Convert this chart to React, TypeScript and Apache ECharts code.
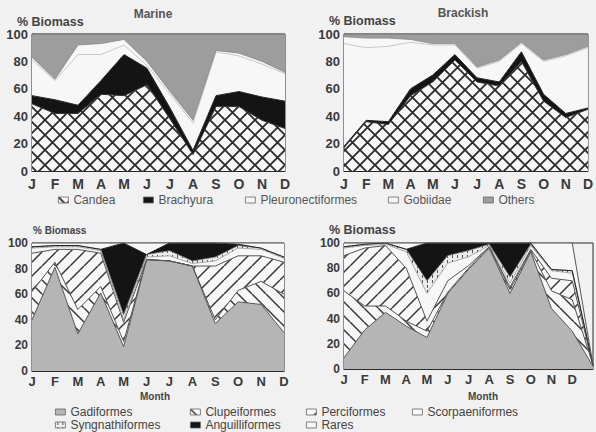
import React, { useEffect, useRef } from 'react';
import * as echarts from 'echarts';

const months = ['J', 'F', 'M', 'A', 'M', 'J', 'J', 'A', 'S', 'O', 'N', 'D'];
const monthsBR = ['J', 'F', 'M', 'A', 'M', 'J', 'J', 'A', 'S', 'O', 'N', 'D', ''];

// Marine (% biomass per group)
const marineCandea = [49, 42, 42, 56, 55, 63, 38, 12, 47, 47, 37, 31];
const marineBrachyura = [6, 10, 6, 10, 30, 12, 8, 3, 8, 11, 17, 20];
const marinePleuro = [26, 14, 37, 19, 7, 2, 10, 20, 32, 26, 24, 20];
const marineGobiidae = [2, 1, 7, 8, 4, 3, 2, 2, 1, 2, 2, 1];
const marineOthers = [17, 33, 8, 7, 4, 20, 42, 63, 12, 14, 20, 28];

// Brackish
const brackCandea = [17, 36, 34, 55, 65, 81, 65, 62, 80, 51, 39, 45];
const brackBrachyura = [1, 1, 2, 5, 5, 4, 3, 3, 7, 5, 3, 1];
const brackPleuro = [75, 53, 55, 34, 22, 7, 7, 15, 6, 24, 42, 44];
const brackGobiidae = [5, 7, 6, 2, 1, 1, 1, 1, 1, 1, 1, 1];
const brackOthers = [2, 3, 3, 4, 7, 7, 24, 19, 6, 19, 15, 9];

// Bottom-left fish groups
const blGadi = [40, 81, 29, 61, 19, 87, 86, 82, 37, 54, 52, 30];
const blClupe = [22, 4, 19, 5, 4, 0, 0, 0, 3, 9, 18, 30];
const blPerci = [30, 10, 47, 26, 15, 0, 0, 0, 42, 27, 20, 25];
const blScorp = [4, 2, 2, 2, 2, 2, 4, 2, 4, 6, 5, 3];
const blSyng = [1, 1, 1, 1, 4, 2, 4, 2, 3, 2, 1, 1];
const blAngu = [0, 0, 0, 0, 56, 0, 6, 14, 11, 1, 0, 0];
const blRares = [3, 2, 2, 5, 0, 9, 0, 0, 0, 1, 4, 11];

// Bottom-right fish groups
const brGadi = [9, 31, 45, 34, 25, 60, 79, 96, 60, 93, 48, 30, 2];
const brClupe = [53, 19, 5, 4, 5, 1, 1, 1, 3, 1, 14, 25, 1];
const brPerci = [28, 46, 48, 42, 8, 9, 2, 0, 2, 1, 10, 15, 0];
const brScorp = [6, 2, 1, 13, 22, 14, 7, 1, 3, 3, 6, 6, 0];
const brSyng = [1, 1, 1, 2, 10, 6, 5, 1, 5, 1, 1, 2, 0];
const brAngu = [0, 0, 0, 0, 30, 10, 6, 1, 27, 1, 0, 0, 0];
const brRares = [3, 1, 0, 5, 0, 0, 0, 0, 0, 0, 21, 22, 0];

const FONT = 'Liberation Sans, Arial, sans-serif';

function hatch(kind: string, size: number, lw: number, stroke: string, bg: string) {
  const c = document.createElement('canvas');
  c.width = size;
  c.height = size;
  const g = c.getContext('2d') as CanvasRenderingContext2D;
  g.fillStyle = bg;
  g.fillRect(0, 0, size, size);
  g.strokeStyle = stroke;
  g.lineWidth = lw;
  g.beginPath();
  if (kind === 'fwd' || kind === 'cross') {
    for (let k = 0; k <= 2; k++) {
      g.moveTo(k * size - size, size);
      g.lineTo(k * size, 0);
    }
  }
  if (kind === 'back' || kind === 'cross') {
    for (let k = 0; k <= 2; k++) {
      g.moveTo(k * size - size, 0);
      g.lineTo(k * size, size);
    }
  }
  if (kind === 'vdash') {
    g.moveTo(size / 2, 0);
    g.lineTo(size / 2, size * 0.6);
  }
  g.stroke();
  return { image: c.toDataURL(), repeat: 'repeat', imageWidth: size, imageHeight: size } as any;
}

export default function App() {
  const ref = useRef<HTMLDivElement>(null);
  useEffect(() => {
    if (!ref.current) return;
    const chart = echarts.init(ref.current, undefined, { renderer: 'svg' });

    const WHITE = '#f7f7f7';
    const cross = hatch('cross', 15, 1.8, '#2b2b2b', WHITE);
    const back = hatch('back', 14, 1.5, '#3a3a3a', WHITE);
    const fwd = hatch('fwd', 14, 1.5, '#3a3a3a', WHITE);
    const vdash = hatch('vdash', 5, 1, '#555', '#ececec');
    const GRAY = '#b5b5b5';
    const OTHERS = '#9d9d9d';
    const BLACK = '#141414';

    const fills: Record<string, any> = {
      Candea: cross,
      Brachyura: BLACK,
      Pleuronectiformes: WHITE,
      Gobiidae: WHITE,
      Others: OTHERS,
      Gadiformes: GRAY,
      Clupeiformes: back,
      Perciformes: fwd,
      Scorpaeniformes: WHITE,
      Syngnathiformes: vdash,
      Anguilliformes: BLACK,
      Rares: WHITE,
    };

    const layer = (name: string, data: number[], idx: number, lineColor: string, lw: number) => ({
      name,
      type: 'line',
      stack: 'g' + idx,
      xAxisIndex: idx,
      yAxisIndex: idx,
      data,
      symbol: 'none',
      silent: true,
      itemStyle: { color: fills[name] },
      lineStyle: { color: lineColor, width: lw },
      areaStyle: { color: fills[name], opacity: 1 },
    });

    const series: any[] = [
      layer('Candea', marineCandea, 0, '#333', 1),
      layer('Brachyura', marineBrachyura, 0, '#222', 1),
      layer('Pleuronectiformes', marinePleuro, 0, '#c8c8c8', 1),
      layer('Gobiidae', marineGobiidae, 0, '#888', 0.8),
      layer('Others', marineOthers, 0, '#666', 0.8),
      layer('Candea', brackCandea, 1, '#333', 1),
      layer('Brachyura', brackBrachyura, 1, '#222', 1),
      layer('Pleuronectiformes', brackPleuro, 1, '#c8c8c8', 1),
      layer('Gobiidae', brackGobiidae, 1, '#888', 0.8),
      layer('Others', brackOthers, 1, '#666', 0.8),
      layer('Gadiformes', blGadi, 2, '#555', 1),
      layer('Clupeiformes', blClupe, 2, '#555', 1),
      layer('Perciformes', blPerci, 2, '#555', 1),
      layer('Scorpaeniformes', blScorp, 2, '#999', 0.8),
      layer('Syngnathiformes', blSyng, 2, '#777', 0.8),
      layer('Anguilliformes', blAngu, 2, '#222', 1),
      layer('Rares', blRares, 2, '#555', 1),
      layer('Gadiformes', brGadi, 3, '#555', 1),
      layer('Clupeiformes', brClupe, 3, '#555', 1),
      layer('Perciformes', brPerci, 3, '#555', 1),
      layer('Scorpaeniformes', brScorp, 3, '#999', 0.8),
      layer('Syngnathiformes', brSyng, 3, '#777', 0.8),
      layer('Anguilliformes', brAngu, 3, '#222', 1),
      layer('Rares', brRares, 3, '#555', 1),
    ];

    const gridDefs = [
      { left: 32, top: 34, width: 253, height: 137 },
      { left: 344, top: 34, width: 249, height: 137 },
      { left: 32, top: 243, width: 252, height: 128 },
      { left: 344, top: 243, width: 249, height: 126 },
    ];
    const grid = gridDefs.map((g) => ({
      ...g,
      show: true,
      borderColor: '#2a2a2a',
      borderWidth: 1,
      backgroundColor: 'transparent',
    }));

    const xAxis = gridDefs.map((_, i) => ({
      gridIndex: i,
      type: 'category',
      boundaryGap: false,
      data: i === 3 ? monthsBR : months,
      axisLine: { lineStyle: { color: '#2a2a2a' } },
      axisTick: { show: false },
      axisLabel: {
        interval: 0,
        fontSize: i < 2 ? 14 : 13,
        fontWeight: 'bold',
        color: '#3a3a3a',
        fontFamily: FONT,
        margin: i < 2 ? 6 : 4,
      },
    }));
    const yAxis = gridDefs.map((_, i) => ({
      gridIndex: i,
      type: 'value',
      min: 0,
      max: 100,
      interval: 20,
      axisLine: { show: true, lineStyle: { color: '#2a2a2a' } },
      axisTick: { show: false },
      splitLine: { show: false },
      axisLabel: {
        fontSize: i < 2 ? 13 : 12,
        fontWeight: 'bold',
        color: '#3a3a3a',
        fontFamily: FONT,
        margin: 4,
      },
    }));

    const legendItem = (name: string, left: number, top: number, fontSize: number, color: string) => ({
      left,
      top,
      padding: 0,
      selectedMode: false,
      itemWidth: 10,
      itemHeight: 6,
      textStyle: { fontSize, color, fontFamily: FONT, lineHeight: fontSize },
      data: [
        {
          name,
          icon: 'rect',
          itemStyle: { color: fills[name], borderColor: '#666', borderWidth: 0.8 },
        },
      ],
    });

    const legend = [
      legendItem('Candea', 58, 194, 12, '#555'),
      legendItem('Brachyura', 143, 194, 12, '#555'),
      legendItem('Pleuronectiformes', 245, 194, 12, '#555'),
      legendItem('Gobiidae', 388, 194, 12, '#555'),
      legendItem('Others', 483, 194, 12, '#555'),
      legendItem('Gadiformes', 55, 406, 12, '#444'),
      legendItem('Clupeiformes', 190, 406, 12, '#444'),
      legendItem('Perciformes', 306, 406, 12, '#444'),
      legendItem('Scorpaeniformes', 412, 406, 12, '#444'),
      legendItem('Syngnathiformes', 55, 419, 12, '#444'),
      legendItem('Anguilliformes', 190, 419, 12, '#444'),
      legendItem('Rares', 306, 419, 12, '#444'),
    ];

    const txt = (text: string, x: number, y: number, size: number, align: string, color = '#444') => ({
      type: 'text',
      x,
      y,
      silent: true,
      style: {
        text,
        fontSize: size,
        fontWeight: 'bold',
        fontFamily: FONT,
        fill: color,
        textAlign: align,
        textVerticalAlign: 'middle',
        align,
        verticalAlign: 'middle',
      },
    });

    chart.setOption({
      animation: false,
      backgroundColor: '#f1f1f1',
      grid,
      xAxis,
      yAxis,
      legend,
      series,
      graphic: [
        txt('Marine', 153, 14, 12, 'center', '#555'),
        txt('Brackish', 463, 13, 12, 'center', '#555'),
        txt('% Biomass', 17, 22, 12.5, 'left'),
        txt('% Biomass', 329, 21, 12.5, 'left'),
        txt('% Biomass', 33, 230, 10, 'left'),
        txt('% Biomass', 329, 230, 12.5, 'left'),
        txt('Month', 155, 396, 10, 'center'),
        txt('Month', 483, 396, 10, 'center'),
      ],
    });

    return () => chart.dispose();
  }, []);

  return (
    <div
      ref={ref}
      style={{ position: 'fixed', left: 0, top: 0, width: 596, height: 432 }}
    />
  );
}
